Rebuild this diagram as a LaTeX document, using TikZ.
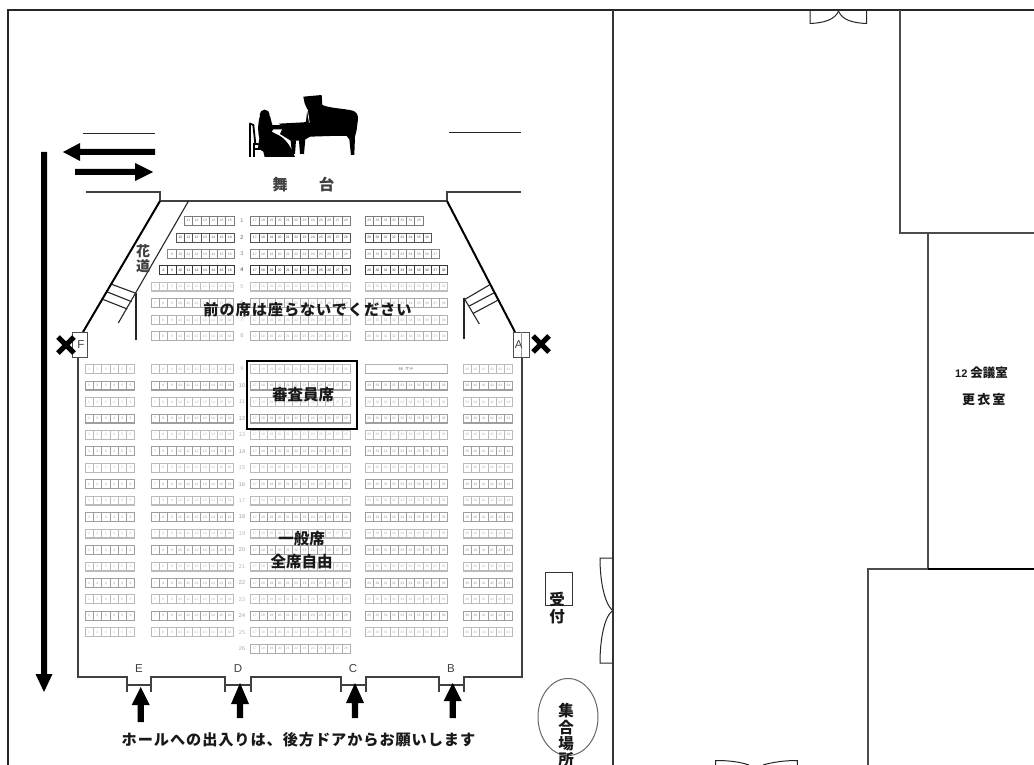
\documentclass[tikz,border=0pt]{standalone}
\usepackage{fontspec}
\newfontfamily\jp{Noto Sans CJK JP}
\newfontfamily\jpw[LetterSpace=6]{Noto Sans CJK JP}
\newfontfamily\jpx[LetterSpace=16]{Noto Sans CJK JP}
\setsansfont{Liberation Sans}
\newcommand{\seatrow}[5]{%
  \pgfmathsetmacro\seatEnd{#1+#4*8.28}
  \draw[#5,line width=.65,fill=white] (#1,#2-4.5) rectangle (\seatEnd,#2+4.5);
  \draw[#5,line width=1.3] (#1,#2+4.5) -- (\seatEnd,#2+4.5);
  \foreach \i in {1,...,#4}{
    \pgfmathsetmacro\sx{#1+(\i-1)*8.28}
    \pgfmathtruncatemacro\sn{#3+\i-1}
    \draw[#5,line width=.55] (\sx,#2-4.5) -- (\sx,#2+4.5);
    \node[seatnum,text=#5] at (\sx+4.14,#2) {\sn};
  }%
}
\newcommand{\rowsfull}[3]{% y, row number, colour: rows 5-8 and 9-25 middle blocks
  \seatrow{151}{#1}{7}{10}{#3}
  \seatrow{250.7}{#1}{17}{12}{#3}
  \node[rownum,text=#3] at (242,#1) {#2};
}
\tikzset{
  seatnum/.style={font=\sffamily\fontsize{3.4}{3.4}\selectfont,inner sep=0,outer sep=0},
  rownum/.style={font=\sffamily\fontsize{5.5}{5.5}\selectfont,inner sep=0},
  wall/.style={line width=2,black!75,line cap=butt,line join=miter},
  wallk/.style={line width=2,black},
  thin/.style={line width=1.1,black!85},
  room/.style={line width=1.5,black!70},
  door/.style={line width=1,black!85},
  blk/.style={fill=black,draw=none},
  lab/.style={font=\jpw\bfseries\fontsize{15.2}{16}\selectfont,inner sep=0,text=black!90},
  labs/.style={font=\jp\bfseries\fontsize{15.5}{16}\selectfont,inner sep=0,text=black!90},
  letter/.style={font=\sffamily\fontsize{11.5}{12}\selectfont,inner sep=0,text=black!75},
  xmark/.style={line width=5,black,line cap=butt},
}
\begin{document}
\begin{tikzpicture}[x=1pt,y=-1pt]
\useasboundingbox (0,0) rectangle (1034,765);
\fill[white] (0,0) rectangle (1034,765);

% seats
\foreach \r/\yy/\n/\f/\c/\col in {1/220.7/6/11/7/black!52,2/237.7/7/10/8/black!68,3/254/8/9/9/black!48,4/270/9/8/10/black!78}{
  \pgfmathsetmacro\lx{234-\n*8.28}
  \seatrow{\lx}{\yy}{\f}{\n}{\col}
  \seatrow{250.7}{\yy}{17}{12}{\col}
  \seatrow{365}{\yy}{29}{\c}{\col}
  \node[rownum,text=\col] at (242,\yy) {\r};
}
\foreach \r/\yy/\col in {5/286.5/black!25,6/303/black!34,7/320/black!30,8/336/black!32}{
  \rowsfull{\yy}{\r}{\col}
  \seatrow{365}{\yy}{29}{10}{\col}
}
\foreach \r in {9,...,25}{
  \pgfmathsetmacro\yy{369+(\r-9)*16.45}
  \pgfmathtruncatemacro\ev{mod(\r,2)}
  \ifnum\ev=0 \def\col{black!38}\else \def\col{black!27}\fi
  \seatrow{85}{\yy}{1}{6}{\col}
  \rowsfull{\yy}{\r}{\col}
  \ifnum\r>9 \seatrow{365}{\yy}{29}{10}{\col}\fi
  \seatrow{463}{\yy}{39}{6}{\col}
}
\draw[black!30,line width=.7,fill=white] (365,364.5) rectangle (447.8,373.5);
\draw[black!35,line width=1.3] (365,373.5) -- (447.8,373.5);
\node[font=\jp\fontsize{4}{4}\selectfont,inner sep=0,text=black!60] at (406,369) {66·サテ};
\seatrow{250.7}{648.7}{17}{12}{black!32}
\node[rownum,text=black!32] at (242,648.7) {26};

% outer frame and rooms
\draw[line width=1.3,black!85] (8,765) -- (8,10) -- (1034,10);
\draw[line width=1.3,black!80] (613,10) -- (613,765);
\draw[room] (900,10) -- (900,233) -- (1034,233);
\draw[room] (928,233) -- (928,569);
\draw[room] (868,765) -- (868,569) -- (928,569);
\draw[line width=1.5,black] (928,569) -- (1034,569);

% doors in the outer walls
\draw[door] (810,10) -- (810,23.5) .. controls (823,23) and (835,20) .. (838.5,11);
\draw[door] (866.5,10) -- (866.5,23.5) .. controls (853,23) and (842,20) .. (838.5,11);
\draw[door] (715.7,765) -- (715.7,760.5) .. controls (730,760.5) and (740,762) .. (749,765);
\draw[door] (797.3,765) -- (797.3,760.5) .. controls (785,760.5) and (773,762) .. (763,765);
\draw[door] (613,558) -- (600,558) .. controls (600,580) and (604,602) .. (612,610);
\draw[door] (612,611) .. controls (604,618) and (600,640) .. (600,663) -- (613,663);

% hall walls
\draw[wall] (86,192) -- (160,192) -- (160,201) -- (447,201) -- (447,192) -- (521,192);
\draw[wallk] (160,201) -- (83,332);
\draw[wallk] (447,201) -- (515,332);
\draw[wall] (77.5,357) -- (77.5,677) -- (126.7,677) -- (126.7,692);
\draw[wall,line width=1.3] (126.7,685) -- (151.3,685);
\draw[wall] (151.3,692) -- (151.3,677) -- (225,677) -- (225,692);
\draw[wall,line width=1.3] (225,685) -- (250.7,685);
\draw[wall] (250.7,692) -- (250.7,677) -- (340.7,677) -- (340.7,692);
\draw[wall,line width=1.3] (340.7,685) -- (365.7,685);
\draw[wall] (365.7,692) -- (365.7,677) -- (439,677) -- (439,692);
\draw[wall,line width=1.3] (439,685) -- (464,685);
\draw[wall] (464,692) -- (464,677) -- (521.5,677) -- (521.5,357);

% hanamichi and side steps
\draw[thin] (188.5,201) -- (118.3,323);
\draw[thin] (136,293) -- (136,340);
\draw[thin] (111.7,284.3) -- (136,293.3);
\draw[thin] (106.7,291.7) -- (131.7,301.7);
\draw[thin] (102.7,299.3) -- (127.3,309);
\draw[thin] (464,298) -- (464,338.5);
\draw[thin] (464,298) -- (479.3,324);
\draw[thin] (465,299.3) -- (489.3,285);
\draw[thin] (469.3,306) -- (494.3,292.7);
\draw[thin] (473.3,313.3) -- (498.3,300);

% exit boxes
\draw[line width=.9,black!70,fill=white] (72,332) rectangle (87,357);
\draw[line width=.9,black!70,fill=white] (513,332) rectangle (529.5,357);
\draw[line width=.5,black!40] (521.5,332) -- (521.5,357);
\node[letter] (exF) at (81,344.5) {F};
\node[letter] (exA) at (518.8,344.5) {A};
\draw[xmark] (58,337) -- (74,353) (74,337) -- (58,353);
\draw[xmark] (533,336) -- (549,352) (549,336) -- (533,352);

% stage side lines and flow arrows
\draw[line width=1,black!85] (83,134) -- (155,134);
\draw[line width=1,black!85] (449,133) -- (521,133);
\fill[blk] (155,149) -- (80,149) -- (80,143) -- (63,152) -- (80,161) -- (80,155) -- (155,155) -- cycle;
\fill[blk] (75,169) -- (135,169) -- (135,163) -- (153,172) -- (135,181) -- (135,175) -- (75,175) -- cycle;
\fill[blk] (41,152) -- (47,152) -- (47,674) -- (52.5,674) -- (44,692) -- (35.5,674) -- (41,674) -- cycle;
\foreach \ax/\tip/\base/\en in {140.7/687/705/722,240/683/704/718,355/683/703/718,452.7/683/701/718}{
  \fill[blk] (\ax,\tip) -- (\ax+9,\base) -- (\ax+3.2,\base) -- (\ax+3.2,\en) -- (\ax-3.2,\en) -- (\ax-3.2,\base) -- (\ax-9,\base) -- cycle;
}

% piano
\begin{scope}[shift={(230,80)},x=.3333pt,y=-.3333pt]
  \fill[black] (220,50) -- (275,45) -- (277,75) .. controls (300,85) and (340,85) .. (368,92)
    .. controls (380,96) and (385,105) .. (384,118) -- (380,150) -- (375,170) -- (373,225) -- (363,225)
    -- (358,178) -- (350,168) -- (300,168) -- (240,170) -- (226,178) -- (222,222) -- (210,222) -- (207,182)
    -- (198,182) -- (195,222) -- (186,222) -- (182,182) -- (150,162) -- (160,140) -- (146,131) -- (222,127)
    -- (228,125) -- (232,88) -- (224,70) -- cycle;
  \fill[black] (104,104) circle[radius=15];
  \fill[black] (92,100) .. controls (84,125) and (82,150) .. (88,175) -- (84,205) -- (100,215) -- (104,231)
    -- (195,231) .. controls (185,205) and (170,180) .. (150,168) -- (125,155) -- (130,148) -- (158,148) -- (160,136) -- (127,135)
    -- (120,108) -- cycle;
  \draw[black,line width=1.8] (58,130) -- (70,135) -- (76,192) -- (112,194);
  \draw[black,line width=2] (60,132) -- (60,230) (72,190) -- (72,230) (72,208) -- (110,208);
  \draw[white,line width=.7] (232,88) -- (238,128);
\end{scope}

% labels
\node[labs,text=black!75] (st1) at (280,185) {舞};
\node[labs,text=black!75] (st2) at (326.7,185) {台};
\node[font=\jp\bfseries\fontsize{14}{15}\selectfont,inner sep=0,text=black!75] (ha) at (143,251) {花};
\node[font=\jp\bfseries\fontsize{14}{15}\selectfont,inner sep=0,text=black!75] (mi) at (143,266) {道};
\node[lab] (front) at (307.5,310) {前の席は座らないでください};
\draw[line width=2,black] (246.7,361) rectangle (357.3,429);
\node[labs] (judge) at (303,395) {審査員席};
\node[labs] (gen) at (301.7,539) {一般席};
\node[labs] (free) at (301.7,562) {全席自由};
\node[letter] (dE) at (139,669) {E};
\node[letter] (dD) at (238,669) {D};
\node[letter] (dC) at (353,669) {C};
\node[letter] (dB) at (451,669) {B};
\node[lab] (note) at (298.5,740) {ホールへの出入りは、後方ドアからお願いします};
\draw[line width=1,black!80] (545.7,572) rectangle (572.3,605);
\node[labs] (u1) at (557,599) {受};
\node[labs] (u2) at (557,617) {付};
\draw[line width=1,black!60] (568,717) ellipse[x radius=30,y radius=38.5];
\node[labs] (m1) at (566,710.7) {集};
\node[labs] (m2) at (566,728) {合};
\node[labs] (m3) at (566,744) {場};
\node[labs] (m4) at (566,760) {所};
\node[font=\jp\bfseries\fontsize{12.5}{13}\selectfont,inner sep=0,anchor=west,text=black!90] (rm) at (955,373) {{\sffamily\fontsize{11}{12}\selectfont 12} 会議室};
\node[font=\jpx\bfseries\fontsize{13}{14}\selectfont,inner sep=0,anchor=west,text=black!90] (ch) at (962,400) {更衣室};
\end{tikzpicture}
\end{document}
